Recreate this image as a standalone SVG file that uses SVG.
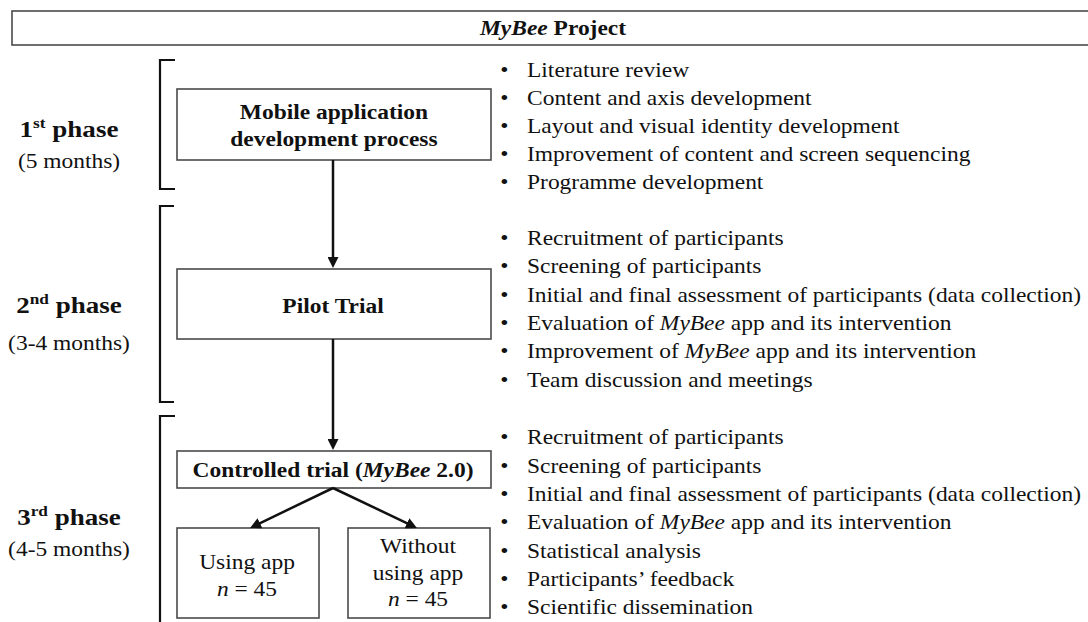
<svg xmlns="http://www.w3.org/2000/svg" width="1088" height="622" viewBox="0 0 1088 622">
<style>
.box{fill:#fff;stroke:#4a4a4a;stroke-width:1.6}
.br{fill:none;stroke:#111;stroke-width:2.2}
.ln{fill:none;stroke:#111;stroke-width:2.5}
.t{font-family:"Liberation Serif","Times New Roman",serif;fill:#111;font-size:20.4px}
.b{font-weight:bold}
.i{font-style:italic}
.ph{font-size:23.5px;font-weight:bold}
.m{text-anchor:middle}
.sup{font-size:15px}
</style>
<defs>
<marker id="ah" viewBox="0 0 10 10" refX="5.5" refY="5" markerWidth="4.4" markerHeight="4.4" orient="auto" markerUnits="strokeWidth">
<path d="M0,0 L10,5 L0,10 z" fill="#111"/>
</marker>
</defs>
<rect width="1088" height="622" fill="#fff"/>

<g id="project">
<rect class="box" x="12" y="11" width="1090" height="34"/>
<text class="t b m" transform="scale(1.15,1)" x="480.9" y="35"><tspan class="i">MyBee</tspan> Project</text>
</g>

<g id="phase-labels">
<path class="br" d="M175,60 H160 V189 H175"/>
<path class="br" d="M174,206 H160 V402 H174"/>
<path class="br" d="M175,416 H160 V625"/>
<text class="t ph m" transform="scale(1.15,1)" x="60" y="137">1<tspan class="sup" dy="-9">st</tspan><tspan dy="9"> phase</tspan></text>
<text class="t m" transform="scale(1.15,1)" x="60" y="168">(5 months)</text>
<text class="t ph m" transform="scale(1.15,1)" x="60" y="313">2<tspan class="sup" dy="-9">nd</tspan><tspan dy="9"> phase</tspan></text>
<text class="t m" transform="scale(1.15,1)" x="60" y="350">(3-4 months)</text>
<text class="t ph m" transform="scale(1.15,1)" x="60" y="525">3<tspan class="sup" dy="-9">rd</tspan><tspan dy="9"> phase</tspan></text>
<text class="t m" transform="scale(1.15,1)" x="60" y="556">(4-5 months)</text>
</g>

<g id="mobile-dev">
<rect class="box" x="177" y="89" width="314" height="71"/>
<text class="t b m" transform="scale(1.15,1)" x="290.4" y="119">Mobile application</text>
<text class="t b m" transform="scale(1.15,1)" x="290.4" y="146">development process</text>
</g>

<g id="pilot-trial">
<rect class="box" x="177" y="269" width="314" height="70"/>
<text class="t b m" transform="scale(1.15,1)" x="289.6" y="313">Pilot Trial</text>
</g>

<g id="controlled-trial">
<rect class="box" x="177" y="451" width="314" height="37"/>
<text class="t b m" transform="scale(1.15,1)" x="289.6" y="477">Controlled trial (<tspan class="i">MyBee</tspan> 2.0)</text>
</g>

<g id="using-app">
<rect class="box" x="177" y="528" width="142" height="90"/>
<text class="t m" transform="scale(1.15,1)" x="214.8" y="569">Using app</text>
<text class="t m" transform="scale(1.15,1)" x="214.8" y="596"><tspan class="i">n</tspan> = 45</text>
</g>

<g id="without-app">
<rect class="box" x="348" y="528" width="142" height="90"/>
<text class="t m" transform="scale(1.15,1)" x="363.5" y="553">Without</text>
<text class="t m" transform="scale(1.15,1)" x="363.5" y="580">using app</text>
<text class="t m" transform="scale(1.15,1)" x="363.5" y="606"><tspan class="i">n</tspan> = 45</text>
</g>

<g id="connectors">
<line class="ln" x1="333" y1="160" x2="333" y2="263" marker-end="url(#ah)"/>
<line class="ln" x1="333" y1="339" x2="333" y2="445" marker-end="url(#ah)"/>
<line class="ln" x1="333" y1="488" x2="254.5" y2="525.8" marker-end="url(#ah)"/>
<line class="ln" x1="333" y1="488" x2="412.5" y2="525.8" marker-end="url(#ah)"/>
</g>

<g id="phase1-tasks" transform="scale(1.15,1)">
<text class="t" y="77"><tspan x="435">•</tspan><tspan x="458.3">Literature review</tspan></text>
<text class="t" y="105"><tspan x="435">•</tspan><tspan x="458.3">Content and axis development</tspan></text>
<text class="t" y="133"><tspan x="435">•</tspan><tspan x="458.3">Layout and visual identity development</tspan></text>
<text class="t" y="161"><tspan x="435">•</tspan><tspan x="458.3">Improvement of content and screen sequencing</tspan></text>
<text class="t" y="189"><tspan x="435">•</tspan><tspan x="458.3">Programme development</tspan></text>
</g>

<g id="phase2-tasks" transform="scale(1.15,1)">
<text class="t" y="245"><tspan x="435">•</tspan><tspan x="458.3">Recruitment of participants</tspan></text>
<text class="t" y="273"><tspan x="435">•</tspan><tspan x="458.3">Screening of participants</tspan></text>
<text class="t" y="302"><tspan x="435">•</tspan><tspan x="458.3">Initial and final assessment of participants (data collection)</tspan></text>
<text class="t" y="330"><tspan x="435">•</tspan><tspan x="458.3">Evaluation of <tspan class="i">MyBee</tspan> app and its intervention</tspan></text>
<text class="t" y="358"><tspan x="435">•</tspan><tspan x="458.3">Improvement of <tspan class="i">MyBee</tspan> app and its intervention</tspan></text>
<text class="t" y="387"><tspan x="435">•</tspan><tspan x="458.3">Team discussion and meetings</tspan></text>
</g>

<g id="phase3-tasks" transform="scale(1.15,1)">
<text class="t" y="444"><tspan x="435">•</tspan><tspan x="458.3">Recruitment of participants</tspan></text>
<text class="t" y="473"><tspan x="435">•</tspan><tspan x="458.3">Screening of participants</tspan></text>
<text class="t" y="501"><tspan x="435">•</tspan><tspan x="458.3">Initial and final assessment of participants (data collection)</tspan></text>
<text class="t" y="529"><tspan x="435">•</tspan><tspan x="458.3">Evaluation of <tspan class="i">MyBee</tspan> app and its intervention</tspan></text>
<text class="t" y="558"><tspan x="435">•</tspan><tspan x="458.3">Statistical analysis</tspan></text>
<text class="t" y="586"><tspan x="435">•</tspan><tspan x="458.3">Participants’ feedback</tspan></text>
<text class="t" y="614"><tspan x="435">•</tspan><tspan x="458.3">Scientific dissemination</tspan></text>
</g>
</svg>
